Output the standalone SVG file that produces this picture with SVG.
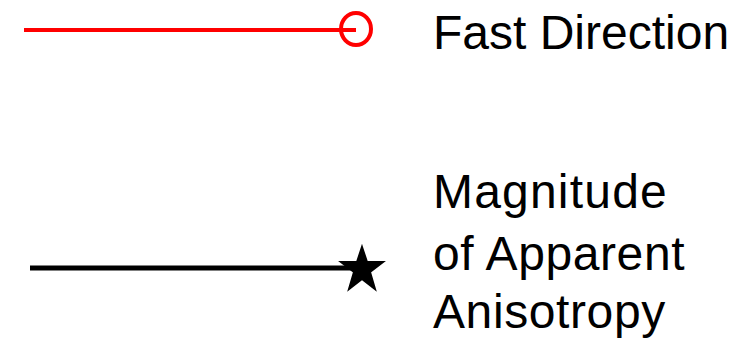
<svg xmlns="http://www.w3.org/2000/svg" width="740" height="350" viewBox="0 0 740 350">
  <style>
    .label { font-family: "Liberation Sans", Arial, sans-serif; font-size: 48px; letter-spacing: 0.6px; fill: #000; }
    .fast { stroke: #ff0000; stroke-width: 4; fill: none; }
    .mag { stroke: #000; stroke-width: 5; fill: none; }
  </style>
  <rect width="740" height="350" fill="#fff"/>
  <g id="connectors">
    <line class="fast" x1="24" y1="30" x2="356" y2="30"/>
    <line class="mag" x1="30" y1="268" x2="362" y2="268"/>
  </g>
  <g id="fast-direction">
    <ellipse class="fast" cx="356" cy="29" rx="15" ry="16"/>
    <text class="label" x="433" y="49" style="letter-spacing:0">Fast Direction</text>
  </g>
  <g id="magnitude">
    <polygon points="362,247 367,262 383,262 370,272 375,289 362,279 349,289 354,272 341,262 357,262" fill="#000" stroke="#000" stroke-width="2" stroke-linejoin="miter"/>
    <text class="label" x="433" y="208" style="letter-spacing:1.2px">Magnitude</text>
    <text class="label" x="433" y="270">of Apparent</text>
    <text class="label" x="433" y="328">Anisotropy</text>
  </g>
</svg>
